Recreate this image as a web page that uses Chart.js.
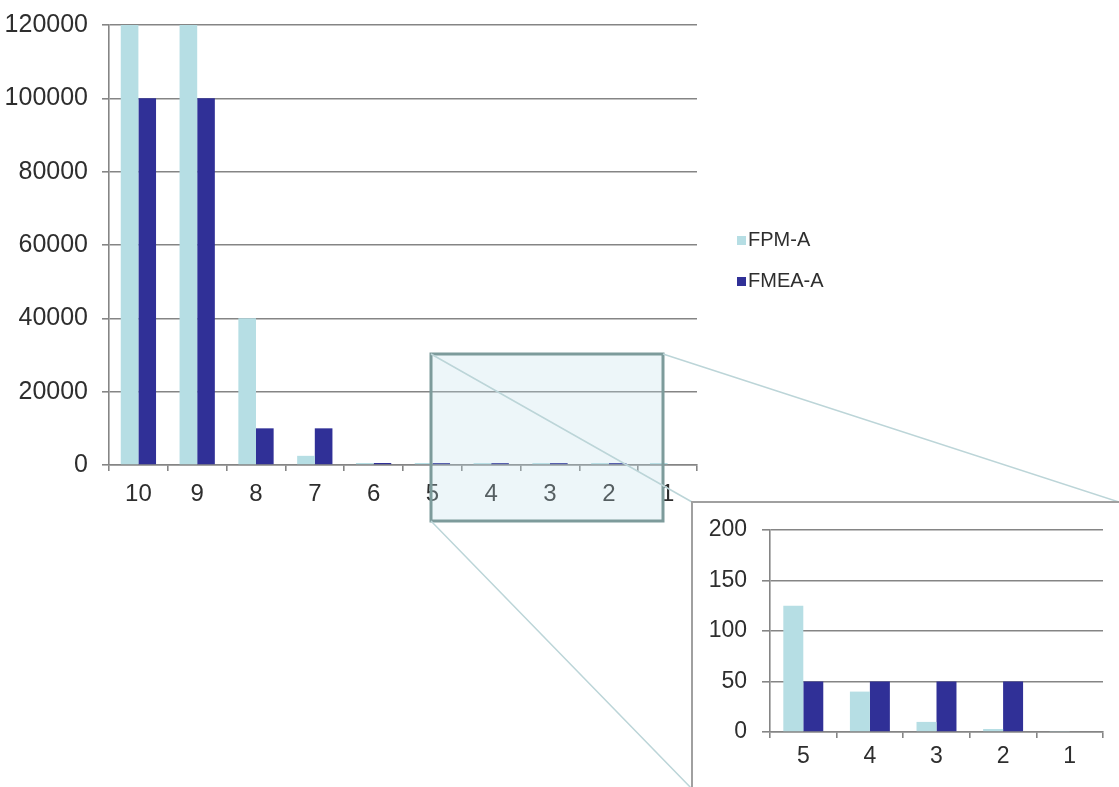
<!DOCTYPE html>
<html>
<head>
<meta charset="utf-8">
<title>FPM-A / FMEA-A</title>
<script src="https://cdn.jsdelivr.net/npm/chart.js@4.4.1/dist/chart.umd.min.js"></script>
<style>
  html, body { margin: 0; padding: 0; background: #fff; overflow: hidden; width: 1119px; height: 787px; }
  #mainWrap { position: absolute; left: 0; top: 0; width: 1119px; height: 787px; }
  #insetBox { position: absolute; left: 691px; top: 501px; width: 470px; height: 330px;
              background: #fff; border-left: 2px solid #a0a0a0; border-top: 2px solid #a0a0a0; }
  #insetWrap { position: absolute; left: 0; top: 0; width: 430px; height: 290px; }
</style>
</head>
<body>
<div id="mainWrap"><canvas id="main"></canvas></div>
<div id="insetBox"><div id="insetWrap"><canvas id="inset"></canvas></div></div>
<script>
// Rank categories, highest first
const categories = ['10', '9', '8', '7', '6', '5', '4', '3', '2', '1'];
// Series values per rank
const fpmA  = [1000000, 1000000, 40000, 2500, 400, 125, 40, 10, 3, 1];
const fmeaA = [100000, 100000, 10000, 10000, 500, 50, 50, 50, 50, null];
// Axis ticks
const mainTicks  = [0, 20000, 40000, 60000, 80000, 100000, 120000];
const insetTicks = [0, 50, 100, 150, 200];
// Detail view covers ranks 5..1
const insetStart = categories.indexOf('5');

const LIGHT = '#b6dee4';
const DARK  = '#303097';
const GRID  = '#858585';
const TEXT  = '#2e2e2e';
const FONT  = "'Liberation Sans', Arial, sans-serif";

function makeDatasets(from) {
  return [
    { label: 'FPM-A',  data: fpmA.slice(from),  backgroundColor: LIGHT, borderWidth: 0,
      categoryPercentage: 0.6, barPercentage: 1.0 },
    { label: 'FMEA-A', data: fmeaA.slice(from), backgroundColor: DARK,  borderWidth: 0,
      categoryPercentage: 0.6, barPercentage: 1.0 }
  ];
}

// Legend drawn beside the main plot
const sideLegend = {
  id: 'sideLegend',
  afterDraw(chart) {
    const ctx = chart.ctx;
    ctx.save();
    ctx.font = '20px ' + FONT;
    ctx.textBaseline = 'middle';
    chart.data.datasets.forEach((ds, i) => {
      const y = 240 + i * 41;
      ctx.fillStyle = ds.backgroundColor;
      ctx.fillRect(737, y - 4, 9, 9);
      ctx.fillStyle = TEXT;
      ctx.fillText(ds.label, 748, y);
    });
    ctx.restore();
  }
};

// Magnifier frame and callout lines toward the detail view
const magnifier = {
  id: 'magnifier',
  afterDraw(chart) {
    const ctx = chart.ctx;
    const r = { x: 431, y: 354, w: 232, h: 167 };
    ctx.save();
    ctx.fillStyle = 'rgba(190, 224, 234, 0.28)';
    ctx.fillRect(r.x, r.y, r.w, r.h);
    ctx.strokeStyle = '#7d9b9b';
    ctx.lineWidth = 3;
    ctx.strokeRect(r.x, r.y, r.w, r.h);
    ctx.strokeStyle = '#bcd5d8';
    ctx.lineWidth = 1.5;
    ctx.beginPath();
    ctx.moveTo(r.x + r.w, r.y); ctx.lineTo(1119, 502);
    ctx.moveTo(r.x, r.y);       ctx.lineTo(692, 502);
    ctx.moveTo(r.x, r.y + r.h); ctx.lineTo(693, 790);
    ctx.stroke();
    ctx.restore();
  }
};

function axisOptions(ticks, max, opts) {
  return {
    x: {
      grid: { drawOnChartArea: false, drawTicks: true, tickLength: 6, color: GRID, lineWidth: 1.6, offset: true },
      border: { display: true, color: GRID, width: 1.6 },
      ticks: { color: TEXT, font: { family: FONT, size: opts.xFont }, padding: opts.xPad, maxRotation: 0, autoSkip: false },
      afterFit(s) { s.height = opts.xHeight; }
    },
    y: {
      min: 0, max: max,
      afterBuildTicks(s) { s.ticks = ticks.map(v => ({ value: v })); },
      grid: { color: GRID, lineWidth: 1.6, tickLength: opts.tickLen, drawTicks: true },
      border: { display: true, color: GRID, width: 1.6 },
      ticks: { color: TEXT, font: { family: FONT, size: opts.yFont }, padding: opts.yPad,
                callback: v => String(v) },
      afterFit(s) { s.width = opts.yWidth; s.paddingTop = 0; s.paddingBottom = 0; }
    }
  };
}

new Chart(document.getElementById('main'), {
  type: 'bar',
  data: { labels: categories, datasets: makeDatasets(0) },
  options: {
    responsive: true, maintainAspectRatio: false, animation: false,
    datasets: { bar: { minBarLength: 2 } },
    layout: { padding: { top: 25, right: 422, bottom: 0, left: 0 } },
    plugins: { legend: { display: false }, tooltip: { enabled: false } },
    scales: axisOptions(mainTicks, 120000, {
      xFont: 24, xPad: 9, xHeight: 787 - 465,
      yFont: 25, yPad: 14, tickLen: 7, yWidth: 109
    })
  },
  plugins: [sideLegend, magnifier]
});

new Chart(document.getElementById('inset'), {
  type: 'bar',
  data: { labels: categories.slice(insetStart), datasets: makeDatasets(insetStart) },
  options: {
    responsive: true, maintainAspectRatio: false, animation: false,
    layout: { padding: { top: 27, right: 20, bottom: 0, left: 0 } },
    plugins: { legend: { display: false }, tooltip: { enabled: false } },
    scales: axisOptions(insetTicks, 200, {
      xFont: 23, xPad: 5, xHeight: 290 - 229,
      yFont: 23, yPad: 15, tickLen: 8, yWidth: 77
    })
  }
});
</script>
</body>
</html>
